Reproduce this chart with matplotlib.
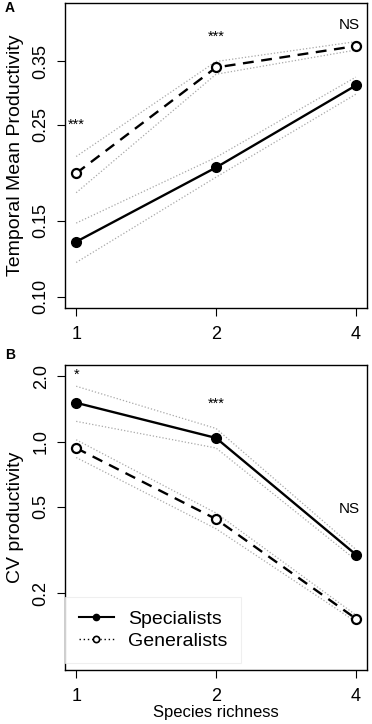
import matplotlib
matplotlib.use("Agg")
import matplotlib.pyplot as plt
from matplotlib.lines import Line2D
from matplotlib.ticker import FixedLocator, FixedFormatter, NullLocator
import numpy as np

plt.rcParams['font.family'] = ['Liberation Sans', 'DejaVu Sans']

richness = [1, 2, 4]

# Panel A: temporal mean productivity
spec_mean = [0.134, 0.199, 0.308]
spec_lo = [0.120, 0.189, 0.294]
spec_hi = [0.148, 0.210, 0.322]
gen_mean = [0.193, 0.339, 0.380]
gen_lo = [0.174, 0.327, 0.372]
gen_hi = [0.211, 0.350, 0.389]
sigA = ["***", "***", "NS"]
sigA_y = [0.25, 0.40, 0.426]
yticksA = [0.10, 0.15, 0.25, 0.35]
ytlabA = ["0.10", "0.15", "0.25", "0.35"]

# Panel B: CV productivity
spec_cv = [1.51, 1.04, 0.302]
spec_cv_lo = [1.24, 0.935, 0.285]
spec_cv_hi = [1.80, 1.15, 0.319]
gen_cv = [0.934, 0.44, 0.153]
gen_cv_lo = [0.845, 0.397, 0.148]
gen_cv_hi = [1.02, 0.469, 0.159]
sigB = ["*", "***", "NS"]
sigB_y = [2.03, 1.50, 0.49]
yticksB = [0.2, 0.5, 1.0, 2.0]
ytlabB = ["0.2", "0.5", "1.0", "2.0"]

xticks = [1, 2, 4]
xtlab = ["1", "2", "4"]

W, H = 372, 724
fig = plt.figure(figsize=(W / 100, H / 100), dpi=100)
left = 65 / W
width = (367 - 65) / W
axA = fig.add_axes([left, 1 - 308 / H, width, 305 / H])
axB = fig.add_axes([left, 1 - 670 / H, width, 305 / H])

def expand(lo, hi, f=0.04):
    l, h = np.log10(lo), np.log10(hi)
    d = (h - l) * f
    return 10 ** (l - d), 10 ** (h + d)

fs = 14
ci_kw = dict(color='#a8a8a8', lw=0.9, ls=(0, (1, 1.6)), zorder=1)

def draw(ax, sm, slo, shi, gm, glo, ghi, ylim, yt, ytl, sig, sigy, ylabel):
    ax.set_xscale('log', base=2)
    ax.set_yscale('log')
    for arr in (slo, shi, glo, ghi):
        ax.plot(richness, arr, **ci_kw)
    ax.plot(richness, sm, color='black', lw=1.7, marker='o', ms=7,
            mfc='black', mec='black', zorder=3)
    ax.plot(richness, gm, color='black', lw=1.7, dashes=(4.6, 3.2),
            marker='o', ms=6.5, mfc='white', mec='black', mew=1.6, zorder=3)
    ax.set_xlim(*expand(1, 4))
    ax.set_ylim(*expand(*ylim))
    ax.xaxis.set_major_locator(FixedLocator(xticks))
    ax.xaxis.set_major_formatter(FixedFormatter(xtlab))
    ax.xaxis.set_minor_locator(NullLocator())
    ax.yaxis.set_major_locator(FixedLocator(yt))
    ax.yaxis.set_major_formatter(FixedFormatter(ytl))
    ax.yaxis.set_minor_locator(NullLocator())
    ax.tick_params(axis='both', length=6, width=0.8, labelsize=13)
    ax.tick_params(axis='y', pad=5)
    ax.tick_params(axis='x', pad=7)
    for lab in ax.get_yticklabels():
        lab.set_rotation(90)
        lab.set_va('center')
    for s in ax.spines.values():
        s.set_linewidth(1.0)
    ax.set_ylabel(ylabel, fontsize=fs, labelpad=6)
    for x, t, y in zip(richness, sig, sigy):
        dx = 0.97 if t == "NS" else 1.0
        ax.text(x * dx, y, t, ha='center', va='center',
                fontsize=11 if t == "NS" else 10.5)

draw(axA, spec_mean, spec_lo, spec_hi, gen_mean, gen_lo, gen_hi,
     (0.10, 0.45), yticksA, ytlabA, sigA, sigA_y, "Temporal Mean Productivity")
draw(axB, spec_cv, spec_cv_lo, spec_cv_hi, gen_cv, gen_cv_lo, gen_cv_hi,
     (0.10, 2.0), yticksB, ytlabB, sigB, sigB_y, "CV productivity")
axB.set_xlabel("Species richness", fontsize=12, labelpad=0)

handles = [
    Line2D([], [], color='black', lw=1.5, marker='o', ms=4.5, mfc='black', mec='black'),
    Line2D([], [], color='black', lw=1.0, ls=(0, (1, 2)), marker='o', ms=4.5,
           mfc='white', mec='black', mew=1.2),
]
leg = axB.legend(handles, ["Specialists", "Generalists"], loc='upper left',
                 bbox_to_anchor=(0.0, 0.24), borderaxespad=0, fontsize=fs,
                 handlelength=1.8, handletextpad=0.75, labelspacing=0.2,
                 frameon=True, fancybox=False, borderpad=0.7)
leg.get_frame().set_edgecolor('#ececec')
leg.get_frame().set_linewidth(0.8)

fig.text(10 / W, 1 - 8 / H, "A", fontsize=10, fontweight='bold', ha='center', va='center')
fig.text(10 / W, 1 - 355 / H, "B", fontsize=10, fontweight='bold', ha='center', va='center')

fig.savefig("out.png", dpi=100)
